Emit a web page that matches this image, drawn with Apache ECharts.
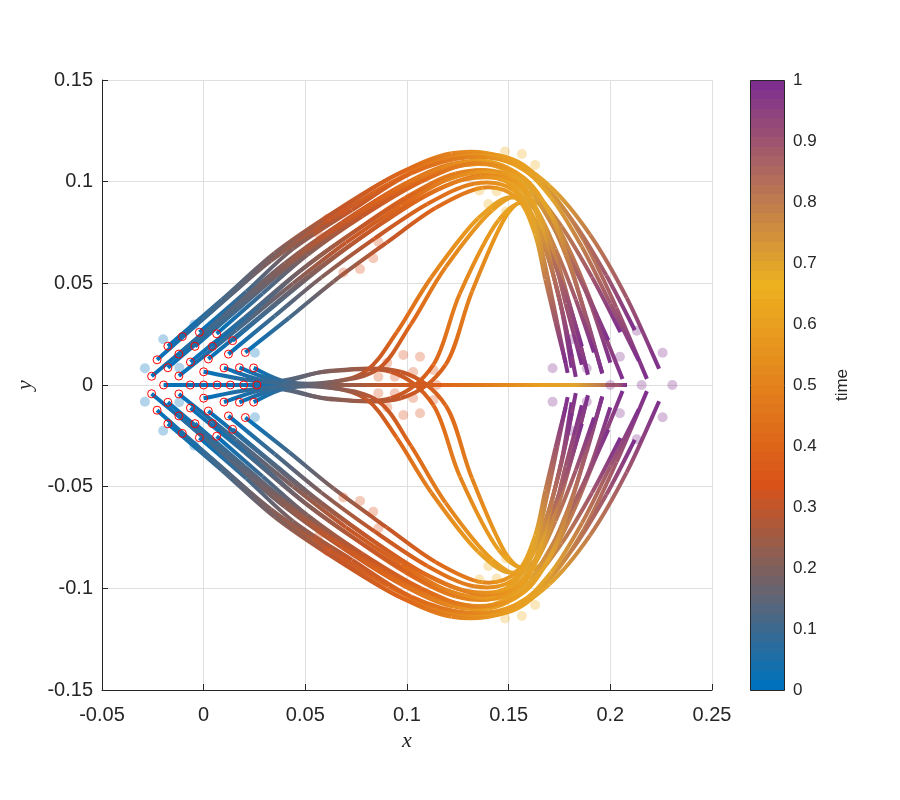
<!DOCTYPE html>
<html>
<head>
<meta charset="utf-8">
<script src="https://cdn.jsdelivr.net/npm/echarts@6/dist/echarts.min.js"></script>
<style>html,body{margin:0;padding:0;background:#fff}#c{width:900px;height:800px}</style>
</head>
<body>
<div id="c"></div>
<script>
// ---- data ----
const timeSamples = [0, 0.1, 0.2, 0.3, 0.4, 0.5, 0.6, 0.7, 0.8, 0.9, 1.0];

const axisTraj = [
  [[-0.0197,0],[0.022,0],[0.054,0],[0.082,0],[0.112,0],[0.138,0],[0.160,0],[0.176,0],[0.189,0],[0.199,0],[0.206,0]],
  [[-0.0066,0],[0.027,0],[0.056,0],[0.084,0],[0.113,0],[0.139,0],[0.161,0],[0.177,0],[0.190,0],[0.200,0],[0.207,0]],
  [[0,0],[0.030,0],[0.057,0],[0.085,0],[0.114,0],[0.140,0],[0.162,0],[0.178,0],[0.191,0],[0.201,0],[0.208,0]],
  [[0.0066,0],[0.032,0],[0.058,0],[0.086,0],[0.115,0],[0.141,0],[0.163,0],[0.179,0],[0.192,0],[0.202,0],[0.208,0]],
  [[0.0131,0],[0.034,0],[0.059,0],[0.087,0],[0.116,0],[0.142,0],[0.164,0],[0.180,0],[0.193,0],[0.203,0],[0.208,0]],
  [[0.0197,0],[0.036,0],[0.060,0],[0.088,0],[0.117,0],[0.143,0],[0.165,0],[0.181,0],[0.194,0],[0.204,0],[0.208,0]],
  [[0.0262,0],[0.038,0],[0.061,0],[0.089,0],[0.118,0],[0.144,0],[0.166,0],[0.182,0],[0.195,0],[0.204,0],[0.208,0]]
];

const crossFromUpper = [
  [[0.000,0.0065],[0.032,0.0015],[0.060,0.0065],[0.092,0.0065],[0.113,-0.010],[0.126,-0.045],[0.145,-0.081],[0.160,-0.089],[0.172,-0.066],[0.181,-0.036],[0.188,-0.009]],
  [[0.0100,0.0084],[0.035,0.0015],[0.062,0.007],[0.097,0.0065],[0.119,-0.010],[0.132,-0.046],[0.150,-0.085],[0.165,-0.089],[0.178,-0.064],[0.188,-0.034],[0.196,-0.0056]]
];
const crossFromLower = [
  [[0.000,-0.0065],[0.032,-0.0015],[0.060,-0.0065],[0.092,-0.0065],[0.113,0.010],[0.126,0.045],[0.145,0.081],[0.160,0.089],[0.172,0.066],[0.181,0.036],[0.188,0.009]],
  [[0.0100,-0.0084],[0.035,-0.0015],[0.062,-0.007],[0.097,-0.0065],[0.119,0.010],[0.132,0.046],[0.150,0.085],[0.165,0.089],[0.178,0.064],[0.188,0.034],[0.196,0.0056]]
];

const riseUpper = [
  [[0.0176,0.0085],[0.038,0.0015],[0.060,0.001],[0.080,0.007],[0.095,0.026],[0.112,0.053],[0.135,0.082],[0.153,0.092],[0.166,0.072],[0.175,0.042],[0.181,0.0085]],
  [[0.0246,0.0084],[0.041,0.0015],[0.063,0.0015],[0.086,0.008],[0.102,0.030],[0.119,0.058],[0.142,0.086],[0.158,0.092],[0.170,0.070],[0.178,0.040],[0.186,0.010]]
];
const riseLower = [
  [[0.0176,-0.0085],[0.038,-0.0015],[0.060,-0.001],[0.080,-0.007],[0.095,-0.026],[0.112,-0.053],[0.135,-0.082],[0.153,-0.092],[0.166,-0.072],[0.175,-0.042],[0.181,-0.0085]],
  [[0.0246,-0.0084],[0.041,-0.0015],[0.063,-0.0015],[0.086,-0.008],[0.102,-0.030],[0.119,-0.058],[0.142,-0.086],[0.158,-0.092],[0.170,-0.070],[0.178,-0.040],[0.186,-0.010]]
];

const bundleUpper = [
  [[-0.0176,0.0191],[0.009,0.042],[0.035,0.065],[0.064,0.085],[0.094,0.103],[0.122,0.114],[0.148,0.112],[0.170,0.098],[0.190,0.074],[0.208,0.043],[0.224,0.008]],
  [[-0.0105,0.0238],[0.014,0.045],[0.039,0.067],[0.068,0.087],[0.098,0.105],[0.126,0.113],[0.152,0.111],[0.170,0.096],[0.187,0.071],[0.203,0.038],[0.218,0.003]],
  [[-0.0229,0.0124],[0.005,0.037],[0.033,0.061],[0.062,0.081],[0.091,0.099],[0.118,0.111],[0.143,0.112],[0.164,0.101],[0.182,0.080],[0.198,0.054],[0.212,0.027]],
  [[-0.0021,0.0259],[0.021,0.046],[0.044,0.067],[0.073,0.086],[0.102,0.104],[0.130,0.112],[0.154,0.108],[0.171,0.092],[0.186,0.068],[0.200,0.040],[0.214,0.012]],
  [[-0.0122,0.0152],[0.014,0.038],[0.040,0.060],[0.068,0.080],[0.097,0.098],[0.123,0.109],[0.147,0.108],[0.165,0.092],[0.180,0.066],[0.193,0.035],[0.206,0.003]],
  [[-0.0256,0.0043],[0.004,0.029],[0.034,0.054],[0.061,0.074],[0.089,0.093],[0.115,0.106],[0.139,0.110],[0.159,0.099],[0.176,0.078],[0.191,0.053],[0.205,0.026]],
  [[-0.0043,0.019],[0.020,0.040],[0.045,0.061],[0.073,0.081],[0.101,0.098],[0.127,0.108],[0.151,0.106],[0.167,0.090],[0.180,0.066],[0.191,0.038],[0.200,0.011]],
  [[-0.0176,0.0085],[0.010,0.032],[0.038,0.056],[0.066,0.076],[0.094,0.094],[0.119,0.106],[0.142,0.108],[0.160,0.096],[0.174,0.074],[0.187,0.048],[0.199,0.022]],
  [[0.0064,0.0252],[0.029,0.045],[0.051,0.064],[0.078,0.083],[0.107,0.100],[0.133,0.109],[0.156,0.103],[0.170,0.085],[0.180,0.060],[0.188,0.033],[0.196,0.006]],
  [[-0.0065,0.0113],[0.020,0.033],[0.046,0.055],[0.072,0.074],[0.099,0.092],[0.124,0.104],[0.146,0.104],[0.162,0.089],[0.173,0.067],[0.183,0.042],[0.192,0.016]],
  [[0.0043,0.019],[0.028,0.039],[0.051,0.059],[0.078,0.078],[0.106,0.095],[0.131,0.105],[0.152,0.102],[0.165,0.084],[0.174,0.059],[0.182,0.032],[0.189,0.005]],
  [[-0.0122,0.0044],[0.016,0.027],[0.044,0.050],[0.070,0.070],[0.097,0.088],[0.120,0.101],[0.142,0.104],[0.157,0.091],[0.168,0.070],[0.178,0.045],[0.186,0.019]],
  [[0.0142,0.0218],[0.036,0.040],[0.058,0.058],[0.084,0.077],[0.111,0.094],[0.136,0.103],[0.156,0.098],[0.166,0.078],[0.172,0.054],[0.178,0.029],[0.183,0.004]],
  [[0.0023,0.0128],[0.027,0.033],[0.052,0.054],[0.078,0.073],[0.105,0.091],[0.128,0.101],[0.149,0.100],[0.162,0.083],[0.170,0.061],[0.176,0.038],[0.181,0.014]],
  [[0.0122,0.0152],[0.035,0.034],[0.058,0.053],[0.084,0.072],[0.110,0.089],[0.133,0.099],[0.152,0.096],[0.163,0.078],[0.169,0.054],[0.174,0.030],[0.179,0.006]],
  [[0.0205,0.016],[0.042,0.033],[0.064,0.051],[0.090,0.070],[0.114,0.087],[0.137,0.097],[0.154,0.092],[0.163,0.074],[0.168,0.052],[0.173,0.031],[0.178,0.011]]
];

const bundleLower = [
  [[-0.0176,-0.0191],[0.009,-0.042],[0.035,-0.065],[0.064,-0.085],[0.094,-0.103],[0.122,-0.114],[0.148,-0.112],[0.170,-0.098],[0.190,-0.074],[0.208,-0.043],[0.224,-0.008]],
  [[-0.0105,-0.0238],[0.014,-0.045],[0.039,-0.067],[0.068,-0.087],[0.098,-0.105],[0.126,-0.113],[0.152,-0.111],[0.170,-0.096],[0.187,-0.071],[0.203,-0.038],[0.218,-0.003]],
  [[-0.0229,-0.0124],[0.005,-0.037],[0.033,-0.061],[0.062,-0.081],[0.091,-0.099],[0.118,-0.111],[0.143,-0.112],[0.164,-0.101],[0.182,-0.080],[0.198,-0.054],[0.212,-0.027]],
  [[-0.0021,-0.0259],[0.021,-0.046],[0.044,-0.067],[0.073,-0.086],[0.102,-0.104],[0.130,-0.112],[0.154,-0.108],[0.171,-0.092],[0.186,-0.068],[0.200,-0.040],[0.214,-0.012]],
  [[-0.0122,-0.0152],[0.014,-0.038],[0.040,-0.060],[0.068,-0.080],[0.097,-0.098],[0.123,-0.109],[0.147,-0.108],[0.165,-0.092],[0.180,-0.066],[0.193,-0.035],[0.206,-0.003]],
  [[-0.0256,-0.0043],[0.004,-0.029],[0.034,-0.054],[0.061,-0.074],[0.089,-0.093],[0.115,-0.106],[0.139,-0.110],[0.159,-0.099],[0.176,-0.078],[0.191,-0.053],[0.205,-0.026]],
  [[-0.0043,-0.019],[0.020,-0.040],[0.045,-0.061],[0.073,-0.081],[0.101,-0.098],[0.127,-0.108],[0.151,-0.106],[0.167,-0.090],[0.180,-0.066],[0.191,-0.038],[0.200,-0.011]],
  [[-0.0176,-0.0085],[0.010,-0.032],[0.038,-0.056],[0.066,-0.076],[0.094,-0.094],[0.119,-0.106],[0.142,-0.108],[0.160,-0.096],[0.174,-0.074],[0.187,-0.048],[0.199,-0.022]],
  [[0.0064,-0.0252],[0.029,-0.045],[0.051,-0.064],[0.078,-0.083],[0.107,-0.100],[0.133,-0.109],[0.156,-0.103],[0.170,-0.085],[0.180,-0.060],[0.188,-0.033],[0.196,-0.006]],
  [[-0.0065,-0.0113],[0.020,-0.033],[0.046,-0.055],[0.072,-0.074],[0.099,-0.092],[0.124,-0.104],[0.146,-0.104],[0.162,-0.089],[0.173,-0.067],[0.183,-0.042],[0.192,-0.016]],
  [[0.0043,-0.019],[0.028,-0.039],[0.051,-0.059],[0.078,-0.078],[0.106,-0.095],[0.131,-0.105],[0.152,-0.102],[0.165,-0.084],[0.174,-0.059],[0.182,-0.032],[0.189,-0.005]],
  [[-0.0122,-0.0044],[0.016,-0.027],[0.044,-0.050],[0.070,-0.070],[0.097,-0.088],[0.120,-0.101],[0.142,-0.104],[0.157,-0.091],[0.168,-0.070],[0.178,-0.045],[0.186,-0.019]],
  [[0.0142,-0.0218],[0.036,-0.040],[0.058,-0.058],[0.084,-0.077],[0.111,-0.094],[0.136,-0.103],[0.156,-0.098],[0.166,-0.078],[0.172,-0.054],[0.178,-0.029],[0.183,-0.004]],
  [[0.0023,-0.0128],[0.027,-0.033],[0.052,-0.054],[0.078,-0.073],[0.105,-0.091],[0.128,-0.101],[0.149,-0.100],[0.162,-0.083],[0.170,-0.061],[0.176,-0.038],[0.181,-0.014]],
  [[0.0122,-0.0152],[0.035,-0.034],[0.058,-0.053],[0.084,-0.072],[0.110,-0.089],[0.133,-0.099],[0.152,-0.096],[0.163,-0.078],[0.169,-0.054],[0.174,-0.030],[0.179,-0.006]],
  [[0.0205,-0.016],[0.042,-0.033],[0.064,-0.051],[0.090,-0.070],[0.114,-0.087],[0.137,-0.097],[0.154,-0.092],[0.163,-0.074],[0.168,-0.052],[0.173,-0.031],[0.178,-0.011]]
];

// faded reference dots at four times
const dotTimes = [0, 1/3, 2/3, 1];
const dotsT0 = [[-0.0289,0.0082],[-0.0199,0.0225],[-0.0046,0.0298],[0.0252,0.0159],[-0.0120,0.0085],
                [-0.0289,-0.0082],[-0.0199,-0.0225],[-0.0046,-0.0298],[0.0252,-0.0159],[-0.0120,-0.0085]];
const dotsT1 = [[0.0610,0.0818],[0.0687,0.0854],[0.0562,0.0748],[0.0859,0.0705],[0.0834,0.0623],[0.0769,0.0570],[0.0687,0.0553],
                [0.0903,0.0110],[0.0982,0.0148],[0.1064,0.0139],[0.1130,0.0074],[0.1030,0.0064],[0.0859,0.0040],[0.0940,0.0041],
                [0.1070,0],[0.1146,0],
                [0.0610,-0.0818],[0.0687,-0.0854],[0.0562,-0.0748],[0.0859,-0.0705],[0.0834,-0.0623],[0.0769,-0.0570],[0.0687,-0.0553],
                [0.0903,-0.0110],[0.0982,-0.0148],[0.1064,-0.0139],[0.1130,-0.0074],[0.1030,-0.0064],[0.0859,-0.0040],[0.0940,-0.0041]];
const dotsT2 = [[0.1482,0.1148],[0.1565,0.1136],[0.1630,0.1082],[0.1356,0.0957],[0.1441,0.0952],[0.1400,0.0890],[0.1487,0.0853],
                [0.1482,-0.1148],[0.1565,-0.1136],[0.1630,-0.1082],[0.1356,-0.0957],[0.1441,-0.0952],[0.1400,-0.0890],[0.1487,-0.0853]];
const dotsT3 = [[0.1810,0.0225],[0.1716,0.0082],[0.1884,0.0082],[0.2047,0.0139],[0.2130,0.0267],[0.2257,0.0159],
                [0.2000,0],[0.2154,0],[0.2305,0],
                [0.1810,-0.0225],[0.1716,-0.0082],[0.1884,-0.0082],[0.2047,-0.0139],[0.2130,-0.0267],[0.2257,-0.0159]];

// colormap (time)
const cmapColors = ['#0072BD', '#D95319', '#EDB120', '#7E2F8E'];
const cmapStops = [0, 1/3, 2/3, 1];
const colorbarTicks = [0, 1, 0.1];   // min, max, step
const xTicks = [-0.05, 0.25, 0.05];
const yTicks = [-0.15, 0.15, 0.05];

// ---- helpers ----
function hexRgb(h){ return [parseInt(h.slice(1,3),16), parseInt(h.slice(3,5),16), parseInt(h.slice(5,7),16)]; }
const cmapRgb = cmapColors.map(hexRgb);
function timeColor(t){
  t = Math.max(0, Math.min(1, t));
  let k = 0;
  while (k < cmapStops.length - 2 && t > cmapStops[k+1]) k++;
  const f = (t - cmapStops[k]) / (cmapStops[k+1] - cmapStops[k]);
  const c = cmapRgb[k].map((v, j) => Math.round(v + (cmapRgb[k+1][j] - v) * f));
  return 'rgb(' + c.join(',') + ')';
}

const allTraj = [].concat(axisTraj, crossFromUpper, crossFromLower, riseUpper, riseLower, bundleUpper, bundleLower);

function renderTraj(params, api){
  const tr = allTraj[params.dataIndex];
  const pts = tr.map(p => api.coord(p));
  const n = pts.length;
  const children = [];
  for (let i = 0; i < n - 1; i++){
    const p0 = pts[Math.max(i-1,0)], p1 = pts[i], p2 = pts[i+1], p3 = pts[Math.min(i+2,n-1)];
    const c1 = [p1[0] + (p2[0]-p0[0])/6, p1[1] + (p2[1]-p0[1])/6];
    const c2 = [p2[0] - (p3[0]-p1[0])/6, p2[1] - (p3[1]-p1[1])/6];
    const grad = new echarts.graphic.LinearGradient(p1[0], p1[1], p2[0], p2[1], [
      {offset:0, color: timeColor(timeSamples[i])},
      {offset:1, color: timeColor(timeSamples[i+1])}
    ], true);
    children.push({
      type: 'bezierCurve',
      shape: {x1:p1[0], y1:p1[1], cpx1:c1[0], cpy1:c1[1], cpx2:c2[0], cpy2:c2[1], x2:p2[0], y2:p2[1]},
      style: {fill: 'none', stroke: grad, lineWidth: 4, lineCap: 'butt'}
    });
  }
  return {type: 'group', children: children};
}

function renderColorbar(params, api){
  const a = api.coord([0, colorbarTicks[0]]), b = api.coord([1, colorbarTicks[1]]);
  const stops = [];
  for (let k = 0; k < 64; k++){
    const c = timeColor(k / 63);
    stops.push({offset: k/64, color: c}, {offset: (k+1)/64, color: c});
  }
  return {
    type: 'rect',
    shape: {x: Math.round(a[0]) + 0.5, y: Math.round(b[1]) + 0.5, width: Math.round(b[0]-a[0]), height: Math.round(a[1]-b[1])},
    style: {fill: new echarts.graphic.LinearGradient(0, a[1], 0, b[1], stops, true), stroke: '#262626', lineWidth: 1}
  };
}

const sans = "'Liberation Sans', Arial, Helvetica, sans-serif";
const serif = "'Liberation Serif', 'DejaVu Serif', serif";
const ink = '#262626';

const dotSeries = [dotsT0, dotsT1, dotsT2, dotsT3].map((d, k) => ({
  type: 'scatter', data: d, symbol: 'circle', symbolSize: 10, z: 3, silent: true,
  itemStyle: {color: timeColor(dotTimes[k]), opacity: 0.3}
}));

const chart = echarts.init(document.getElementById('c'), null, {renderer: 'canvas'});
chart.setOption({
  animation: false,
  backgroundColor: '#ffffff',
  grid: [
    {left: 102, top: 80, width: 610, height: 610},
    {left: 750, top: 80, width: 34, height: 610}
  ],
  xAxis: [
    {
      type: 'value', gridIndex: 0, min: xTicks[0], max: xTicks[1], interval: xTicks[2],
      axisLine: {show: true, onZero: false, lineStyle: {color: ink, width: 1}},
      axisTick: {show: true, inside: true, length: 6, lineStyle: {color: ink}},
      axisLabel: {fontSize: 20, color: ink, margin: 15, fontFamily: sans, showMinLabel: true, showMaxLabel: true},
      splitLine: {show: true, lineStyle: {color: '#dfdfdf', width: 1}},
      name: 'x', nameLocation: 'middle', nameGap: 40,
      nameTextStyle: {fontFamily: serif, fontStyle: 'italic', fontSize: 22, color: ink}
    },
    {type: 'value', gridIndex: 1, min: 0, max: 1, show: false}
  ],
  yAxis: [
    {
      type: 'value', gridIndex: 0, min: yTicks[0], max: yTicks[1], interval: yTicks[2],
      axisLine: {show: true, onZero: false, lineStyle: {color: ink, width: 1}},
      axisTick: {show: true, inside: true, length: 6, lineStyle: {color: ink}},
      axisLabel: {fontSize: 20, color: ink, margin: 9, fontFamily: sans, showMinLabel: true, showMaxLabel: true},
      splitLine: {show: true, lineStyle: {color: '#dfdfdf', width: 1}},
      name: 'y', nameLocation: 'middle', nameGap: 59, nameRotate: 90,
      nameTextStyle: {fontFamily: serif, fontStyle: 'italic', fontSize: 22, color: ink}
    },
    {
      type: 'value', gridIndex: 1, min: colorbarTicks[0], max: colorbarTicks[1], interval: colorbarTicks[2], position: 'right',
      axisLine: {show: false},
      axisTick: {show: false},
      axisLabel: {fontSize: 17, color: ink, margin: 9, fontFamily: sans, showMinLabel: true, showMaxLabel: true},
      splitLine: {show: false},
      name: 'time', nameLocation: 'middle', nameGap: 50, nameRotate: 90,
      nameTextStyle: {fontSize: 17, color: ink, fontFamily: sans}
    }
  ],
  series: [
    {
      type: 'custom', xAxisIndex: 1, yAxisIndex: 1, data: [[0, 0]], renderItem: renderColorbar, z: 1, silent: true
    },
    {
      type: 'custom', xAxisIndex: 0, yAxisIndex: 0, silent: true, z: 2,
      data: allTraj.map((tr, i) => [tr[0][0], tr[0][1], i]),
      encode: {x: 0, y: 1},
      renderItem: renderTraj
    }
  ].concat(dotSeries, [
    {
      type: 'scatter', data: allTraj.map(tr => tr[0]), symbol: 'circle', symbolSize: 8, z: 4, silent: true,
      itemStyle: {color: 'rgba(255,255,255,0)', borderColor: '#ff0000', borderWidth: 1, opacity: 1}
    }
  ])
});
</script>
</body>
</html>
